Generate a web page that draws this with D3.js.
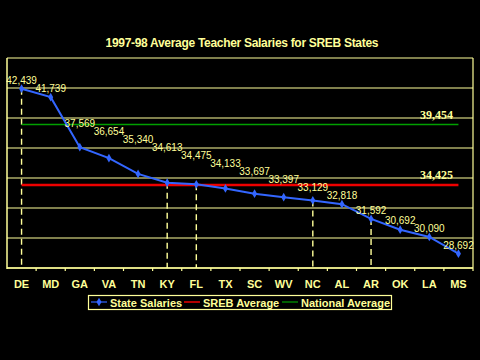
<!DOCTYPE html>
<html><head><meta charset="utf-8">
<script src="https://cdn.jsdelivr.net/npm/d3@7"></script>
<style>html,body{margin:0;padding:0;background:#000;}svg{display:block;}</style>
</head><body>
<svg id="c" width="480" height="360"></svg>
<script>
const states = ["DE","MD","GA","VA","TN","KY","FL","TX","SC","WV","NC","AL","AR","OK","LA","MS"];
const salaries = [42439,41739,37569,36654,35340,34613,34475,34133,33697,33397,33129,32818,31592,30692,30090,28692];
const srebAverage = 34425;
const nationalAverage = 39454;
const dashedStates = ["DE","KY","FL","NC","AR"];
const yTicks = [27500,30000,32500,35000,37500,40000,42500,45000];
const title = "1997-98 Average Teacher Salaries for SREB States";
const legendItems = ["State Salaries","SREB Average","National Average"];

const YEL = "#ffff99", BLUE = "#3366ff", RED = "#ee0000", GREEN = "#00a000";
const svg = d3.select("#c");
svg.append("rect").attr("width",480).attr("height",360).attr("fill","#000");

const m = {l:7, r:473, t:58, b:268};
const x = d3.scaleBand().domain(states).range([m.l, m.r]);
const y = d3.scaleLinear().domain([27500,45000]).range([m.b, m.t]);
const cx = s => x(s) + x.bandwidth()/2;

// title
svg.append("text").attr("x",242).attr("y",47).attr("text-anchor","middle")
  .attr("fill",YEL).attr("font-family","Arial, Liberation Sans, sans-serif")
  .attr("font-weight","bold").attr("font-size",12).attr("textLength",273).text(title);

// gridlines
svg.append("g").selectAll("line").data(yTicks).join("line")
  .attr("x1",m.l).attr("x2",m.r).attr("y1",d=>y(d)).attr("y2",d=>y(d))
  .attr("stroke",YEL).attr("stroke-width",1.2);
// borders
svg.append("line").attr("x1",m.l).attr("x2",m.l).attr("y1",m.t).attr("y2",m.b+1).attr("stroke",YEL).attr("stroke-width",1.5);
svg.append("line").attr("x1",m.r).attr("x2",m.r).attr("y1",m.t).attr("y2",m.b).attr("stroke",YEL).attr("stroke-width",1.2);

// x axis
const xa = svg.append("g").attr("transform",`translate(0,${m.b})`);
xa.append("line").attr("x1",m.l).attr("x2",m.r).attr("stroke",YEL).attr("stroke-width",1.5);
xa.selectAll("line.tk").data(states).join("line").attr("class","tk")
  .attr("x1",(d,i)=>m.l + x.step()*(i+1)).attr("x2",(d,i)=>m.l + x.step()*(i+1))
  .attr("y1",0).attr("y2",3).attr("stroke",YEL).attr("stroke-width",1.2);
xa.selectAll("text").data(states).join("text")
  .attr("x",d=>cx(d)).attr("y",20).attr("text-anchor","middle")
  .attr("fill",YEL).attr("font-family","Arial, Liberation Sans, sans-serif")
  .attr("font-weight","bold").attr("font-size",11).text(d=>d);

// dashed droplines
svg.append("g").selectAll("line").data(dashedStates).join("line")
  .attr("x1",d=>cx(d)).attr("x2",d=>cx(d))
  .attr("y1",d=>y(salaries[states.indexOf(d)])).attr("y2",m.b)
  .attr("stroke",YEL).attr("stroke-width",1.4).attr("stroke-dasharray","6,4");

// average lines
const x0 = cx(states[0]), x1 = cx(states[states.length-1]);
svg.append("line").attr("x1",x0).attr("x2",x1).attr("y1",y(nationalAverage)).attr("y2",y(nationalAverage))
  .attr("stroke",GREEN).attr("stroke-width",1.5);
svg.append("line").attr("x1",x0).attr("x2",x1).attr("y1",y(srebAverage)).attr("y2",y(srebAverage))
  .attr("stroke",RED).attr("stroke-width",2.5);

// average labels
const fmt = d3.format(",");
[nationalAverage, srebAverage].forEach(v=>{
  svg.append("text").attr("x",453).attr("y",y(v)-6).attr("text-anchor","end")
    .attr("fill",YEL).attr("font-family","Liberation Serif, Times New Roman, serif")
    .attr("font-weight","bold").attr("font-size",12).text(fmt(v));
});

// salary line
const line = d3.line().x((d,i)=>cx(states[i])).y(d=>y(d));
svg.append("path").datum(salaries).attr("d",line).attr("fill","none")
  .attr("stroke",BLUE).attr("stroke-width",2);
const sym = d3.symbol().type(d3.symbolDiamond).size(22);
svg.append("g").selectAll("path").data(salaries).join("path")
  .attr("transform",(d,i)=>`translate(${cx(states[i])},${y(d)})`).attr("d",sym).attr("fill",BLUE);

// value labels: stacked right-to-left so neighbouring labels do not collide
const labelY = new Array(salaries.length);
for (let i = salaries.length-1; i >= 0; i--) {
  const own = y(salaries[i]) - 5;
  labelY[i] = (i === salaries.length-1) ? own : Math.min(own, labelY[i+1] - 8);
}
svg.append("g").selectAll("text").data(salaries).join("text")
  .attr("x",(d,i)=>cx(states[i])).attr("y",(d,i)=>labelY[i]).attr("text-anchor","middle")
  .attr("fill",YEL).attr("font-family","Arial, Liberation Sans, sans-serif")
  .attr("font-size",10).text(d=>fmt(d));

// legend
const lg = svg.append("g");
lg.append("rect").attr("x",88.5).attr("y",295.5).attr("width",303).attr("height",14)
  .attr("fill","#000").attr("stroke",YEL).attr("stroke-width",1.2);
const lx = [91, 184, 282];
const lc = [BLUE, RED, GREEN];
legendItems.forEach((t,i)=>{
  lg.append("line").attr("x1",lx[i]).attr("x2",lx[i]+16).attr("y1",302).attr("y2",302)
    .attr("stroke",lc[i]).attr("stroke-width",i==1?1.5:1.2);
  if(i==0) lg.append("path").attr("transform",`translate(${lx[i]+8},302)`).attr("d",sym).attr("fill",BLUE);
  lg.append("text").attr("x",lx[i]+19).attr("y",306.5).attr("fill",YEL)
    .attr("font-family","Arial, Liberation Sans, sans-serif").attr("font-weight","bold")
    .attr("font-size",11).text(t);
});
</script>
</body></html>
